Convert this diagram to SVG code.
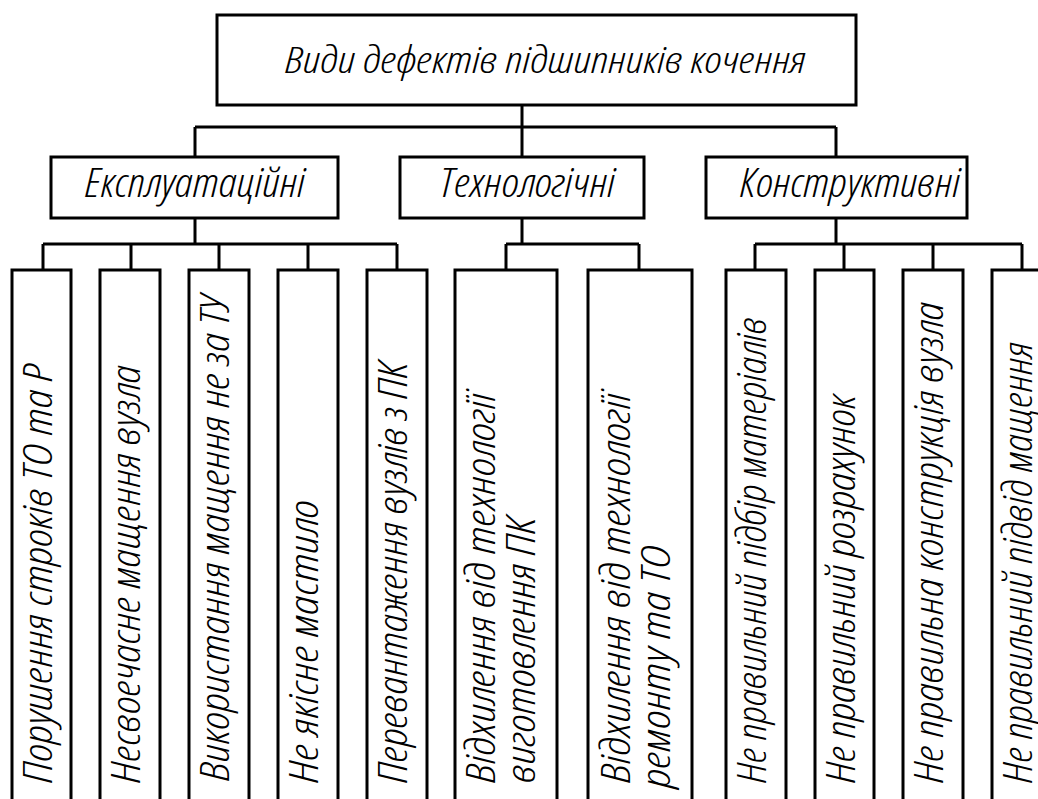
<svg xmlns="http://www.w3.org/2000/svg" width="1038" height="799" viewBox="0 0 1038 799">
<style>
.box{fill:#fff;stroke:#000;stroke-width:3}
.ln{fill:none;stroke:#000;stroke-width:3}
text{font-family:"Open Sans","DejaVu Sans",sans-serif;font-style:italic;font-weight:300;font-stretch:condensed;fill:#000}
.t{font-size:36px}
.c{font-size:40px}
.v{font-size:40px}
</style>
<rect width="1038" height="799" fill="#fff"/>
<g id="connectors">
<path class="ln" d="M522 105V157M195 127H836M195 127V157M836 127V157"/>
<path class="ln" d="M195 218V244M43 244H397M43 244V270M131 244V270M219 244V270M308 244V270M397 244V270"/>
<path class="ln" d="M522 218V244M506 244H639M506 244V270M639 244V270"/>
<path class="ln" d="M836 218V244M755 244H1022M755 244V270M844 244V270M933 244V270M1022 244V270"/>
</g>
<g id="root"><rect class="box" x="217" y="15" width="639" height="90"/><text class="t" x="285" y="73" textLength="521" lengthAdjust="spacingAndGlyphs">Види дефектів підшипників кочення</text></g>
<g id="cat1"><rect class="box" x="51" y="157" width="287" height="61"/><text class="c" x="85" y="197" textLength="220" lengthAdjust="spacingAndGlyphs">Експлуатаційні</text></g>
<g id="cat2"><rect class="box" x="400" y="157" width="244" height="61"/><text class="c" x="440" y="197" textLength="175" lengthAdjust="spacingAndGlyphs">Технологічні</text></g>
<g id="cat3"><rect class="box" x="706" y="157" width="261" height="61"/><text class="c" x="740" y="197" textLength="220" lengthAdjust="spacingAndGlyphs">Конструктивні</text></g>
<g id="e1"><rect class="box" x="12" y="270" width="59" height="560"/><text class="v" transform="translate(52,783) rotate(-90)" textLength="419" lengthAdjust="spacingAndGlyphs">Порушення строків ТО та Р</text></g>
<g id="e2"><rect class="box" x="100" y="270" width="60" height="560"/><text class="v" transform="translate(140,783) rotate(-90)" textLength="418" lengthAdjust="spacingAndGlyphs">Несвоечасне мащення вузла</text></g>
<g id="e3"><rect class="box" x="189" y="270" width="60" height="560"/><text class="v" transform="translate(229,781) rotate(-90)" textLength="485" lengthAdjust="spacingAndGlyphs">Використання мащення не за ТУ</text></g>
<g id="e4"><rect class="box" x="278" y="270" width="60" height="560"/><text class="v" transform="translate(318,783) rotate(-90)" textLength="283" lengthAdjust="spacingAndGlyphs">Не якісне мастило</text></g>
<g id="e5"><rect class="box" x="367" y="270" width="60" height="560"/><text class="v" transform="translate(407,783) rotate(-90)" textLength="421" lengthAdjust="spacingAndGlyphs">Перевантаження вузлів з ПК</text></g>
<g id="t1"><rect class="box" x="455" y="270" width="102" height="560"/><text class="v" transform="translate(495,783) rotate(-90)" textLength="390" lengthAdjust="spacingAndGlyphs">Відхилення від технології</text><text class="v" transform="translate(535,783) rotate(-90)" textLength="266" lengthAdjust="spacingAndGlyphs">виготовлення ПК</text></g>
<g id="t2"><rect class="box" x="588" y="270" width="104" height="560"/><text class="v" transform="translate(630,783) rotate(-90)" textLength="390" lengthAdjust="spacingAndGlyphs">Відхилення від технології</text><text class="v" transform="translate(670,788) rotate(-90)" textLength="243" lengthAdjust="spacingAndGlyphs">ремонту та ТО</text></g>
<g id="k1"><rect class="box" x="726" y="270" width="60" height="560"/><text class="v" transform="translate(766,783) rotate(-90)" textLength="466" lengthAdjust="spacingAndGlyphs">Не правильний підбір матеріалів</text></g>
<g id="k2"><rect class="box" x="815" y="270" width="59" height="560"/><text class="v" transform="translate(855,783) rotate(-90)" textLength="388" lengthAdjust="spacingAndGlyphs">Не правильний розрахунок</text></g>
<g id="k3"><rect class="box" x="903" y="270" width="60" height="560"/><text class="v" transform="translate(943,783) rotate(-90)" textLength="481" lengthAdjust="spacingAndGlyphs">Не правильна конструкція вузла</text></g>
<g id="k4"><rect class="box" x="992" y="270" width="70" height="560"/><text class="v" transform="translate(1032,783) rotate(-90)" textLength="441" lengthAdjust="spacingAndGlyphs">Не правильний підвід мащення</text></g>
</svg>
